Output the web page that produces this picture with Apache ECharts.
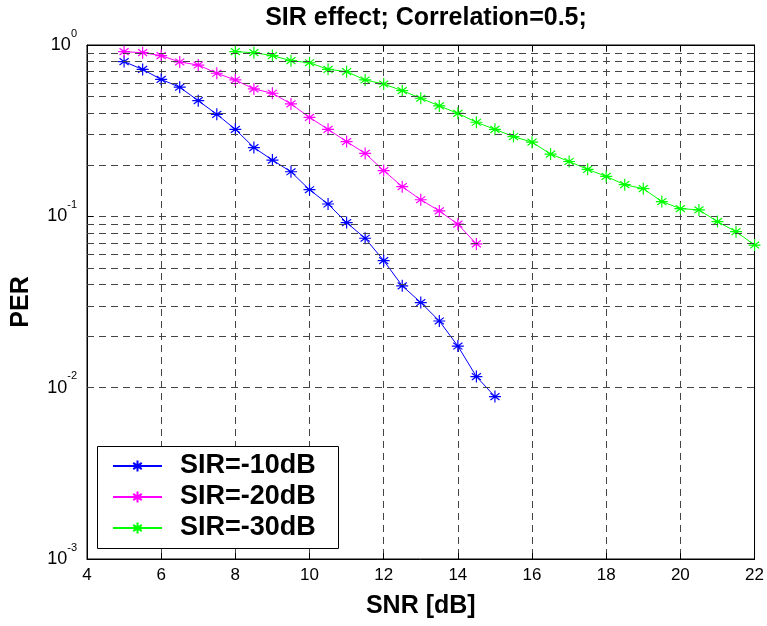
<!DOCTYPE html>
<html>
<head>
<meta charset="utf-8">
<script src="https://cdn.jsdelivr.net/npm/echarts@6/dist/echarts.min.js"></script>
<style>html,body{margin:0;padding:0;background:#fff;}#chart{width:767px;height:626px;}</style>
</head>
<body>
<div id="chart"></div>
<script>
const titleText = 'SIR effect; Correlation=0.5;';
const xName = 'SNR [dB]';
const yName = 'PER';
const xTicks = [4, 6, 8, 10, 12, 14, 16, 18, 20, 22];
const yDecades = [0.001, 0.01, 0.1, 1];
const yMinorValues = [0.002,0.003,0.004,0.005,0.006,0.007,0.008,0.009,
                      0.02,0.03,0.04,0.05,0.06,0.07,0.08,0.09,
                      0.2,0.3,0.4,0.5,0.6,0.7,0.8,0.9];
const seriesNames = ['SIR=-10dB', 'SIR=-20dB', 'SIR=-30dB'];
const seriesColors = ['#0000ff', '#ff00ff', '#00ff00'];

const snr10 = [5,5.5,6,6.5,7,7.5,8,8.5,9,9.5,10,10.5,11,11.5,12,12.5,13,13.5,14,14.5,15];
const per10 = [0.80,0.72,0.63,0.567,0.473,0.394,0.322,0.252,0.213,0.182,0.143,0.118,0.0919,0.0745,0.0552,0.0393,0.0314,0.0245,0.0175,0.0116,0.00887];

const snr20 = [5,5.5,6,6.5,7,7.5,8,8.5,9,9.5,10,10.5,11,11.5,12,12.5,13,13.5,14,14.5];
const per20 = [0.914,0.902,0.867,0.796,0.764,0.684,0.625,0.554,0.523,0.453,0.378,0.322,0.273,0.233,0.185,0.149,0.125,0.1075,0.090,0.069];

const snr30 = [8,8.5,9,9.5,10,10.5,11,11.5,12,12.5,13,13.5,14,14.5,15,15.5,16,16.5,17,17.5,18,18.5,19,19.5,20,20.5,21,21.5,22];
const per30 = [0.914,0.902,0.867,0.810,0.788,0.721,0.699,0.625,0.592,0.541,0.489,0.441,0.399,0.354,0.322,0.292,0.271,0.231,0.209,0.188,0.171,0.153,0.145,0.122,0.111,0.109,0.0932,0.0814,0.068];

const FONT = '"Liberation Sans", Arial, Helvetica, sans-serif';
const STAR = 'path://M5 0L5 10M0 5L10 5M1.2 2.2L8.8 7.8M1.2 7.8L8.8 2.2';
const gridDash = { color: '#444', width: 1, type: [7, 5] };

function zip(xs, ys) { return xs.map((x, i) => [x, ys[i]]); }

function mkSeries(name, color, xs, ys) {
  return {
    name: name, type: 'line', xAxisIndex: 0, yAxisIndex: 0,
    data: zip(xs, ys),
    symbol: STAR, symbolSize: 12,
    lineStyle: { color: color, width: 1 },
    itemStyle: { color: color, borderColor: color, borderWidth: 1.2 },
    emphasis: { disabled: true },
    animation: false, z: 3
  };
}

function expLabel(v) {
  const e = Math.round(Math.log10(v));
  return '{a|10}{b|' + e + '}';
}

const chart = echarts.init(document.getElementById('chart'), null, { renderer: 'canvas' });
chart.setOption({
  backgroundColor: '#fff',
  animation: false,
  textStyle: { fontFamily: FONT },
  title: {
    text: titleText, left: 421, top: 1, textAlign: 'center',
    textStyle: { fontFamily: FONT, fontWeight: 'bold', fontSize: 25, color: '#000' }
  },
  grid: { left: 87, right: 11, top: 45, bottom: 67, show: true, borderColor: '#000', borderWidth: 1, backgroundColor: 'transparent' },
  xAxis: [{
    type: 'value', min: xTicks[0], max: xTicks[xTicks.length - 1], interval: 2,
    name: xName, nameLocation: 'middle', nameGap: 35,
    nameTextStyle: { fontFamily: FONT, fontWeight: 'bold', fontSize: 25, color: '#000' },
    axisLine: { show: true, lineStyle: { color: '#000', width: 1 } },
    axisTick: { show: true, inside: true, length: 6, lineStyle: { color: '#000' } },
    axisLabel: { fontFamily: FONT, fontSize: 17, color: '#000', margin: 8 },
    splitLine: { show: true, lineStyle: gridDash }
  }, {
    type: 'value', position: 'top', min: xTicks[0], max: xTicks[xTicks.length - 1], interval: 2,
    axisLine: { show: true, lineStyle: { color: '#000' } },
    axisTick: { show: true, inside: true, length: 6, lineStyle: { color: '#000' } },
    axisLabel: { show: false }, splitLine: { show: false }
  }],
  yAxis: [{
    type: 'log', logBase: 10, min: yDecades[0], max: yDecades[yDecades.length - 1],
    name: yName, nameLocation: 'middle', nameGap: 53, nameRotate: 90,
    nameTextStyle: { fontFamily: FONT, fontWeight: 'bold', fontSize: 25, color: '#000' },
    axisLine: { show: true, lineStyle: { color: '#000', width: 1 } },
    axisTick: { show: true, inside: true, length: 6, lineStyle: { color: '#000' } },
    axisLabel: {
      margin: 10, formatter: expLabel,
      rich: {
        a: { fontFamily: FONT, fontSize: 18, color: '#000', lineHeight: 34, verticalAlign: 'middle' },
        b: { fontFamily: FONT, fontSize: 11, color: '#000', lineHeight: 13, verticalAlign: 'top' }
      }
    },
    splitLine: { show: true, lineStyle: gridDash }
  }, {
    type: 'log', logBase: 10, position: 'right', min: yDecades[0], max: yDecades[yDecades.length - 1],
    axisLine: { show: true, lineStyle: { color: '#000' } },
    axisTick: { show: true, inside: true, length: 6, lineStyle: { color: '#000' } },
    axisLabel: { show: false }, splitLine: { show: false }
  }],
  legend: {
    orient: 'vertical', left: 97, top: 446,
    padding: [6, 10, 6, 15], itemGap: 3, itemWidth: 49, itemHeight: 14,
    data: seriesNames,
    textStyle: { fontFamily: FONT, fontWeight: 'bold', fontSize: 27, color: '#000', lineHeight: 28, padding: [0, 0, 0, 13] },
    backgroundColor: 'transparent', borderWidth: 0,
    selectedMode: false, z: 12
  },
  graphic: [{
    type: 'rect', left: 97, top: 446, z: 10, silent: true,
    shape: { width: 241, height: 102 },
    style: { fill: '#fff', stroke: '#000', lineWidth: 1 }
  }],
  series: [
    mkSeries(seriesNames[0], seriesColors[0], snr10, per10),
    mkSeries(seriesNames[1], seriesColors[1], snr20, per20),
    mkSeries(seriesNames[2], seriesColors[2], snr30, per30),
    {
      name: 'minorGrid', type: 'line', data: [], silent: true, z: 1,
      markLine: {
        silent: true, symbol: 'none', animation: false,
        label: { show: false },
        lineStyle: gridDash,
        emphasis: { disabled: true },
        data: yMinorValues.map(v => ({ yAxis: v }))
      }
    }
  ]
});
</script>
</body>
</html>
